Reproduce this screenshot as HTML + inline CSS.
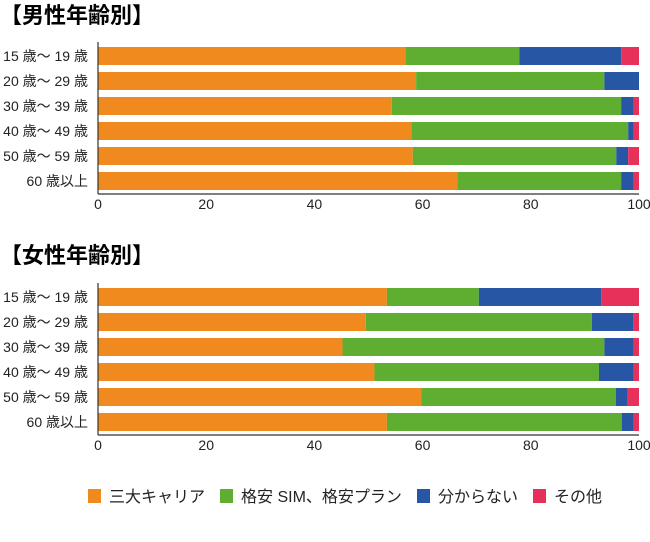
<!DOCTYPE html>
<html><head><meta charset="utf-8"><style>
body{margin:0;background:#fff;width:650px;height:537px;overflow:hidden;font-family:"Liberation Sans","Noto Sans CJK JP",sans-serif}
</style></head><body>
<svg id="svg" width="650" height="537" xmlns="http://www.w3.org/2000/svg" font-family="'Liberation Sans','Noto Sans CJK JP',sans-serif"></svg>
<script>
const categories = ["15 歳～ 19 歳","20 歳～ 29 歳","30 歳～ 39 歳","40 歳～ 49 歳","50 歳～ 59 歳","60 歳以上"];
const seriesNames = ["三大キャリア","格安 SIM、格安プラン","分からない","その他"];
const colors = ["#f08a1e","#5fae32","#2756a4","#e8315a"];
const maleCarrier = [56.8,58.8,54.3,57.9,58.2,66.4];
const maleMvno = [21.1,34.8,42.4,40.1,37.6,30.3];
const maleUnknown = [18.8,6.4,2.3,1.0,2.2,2.3];
const maleOther = [3.3,0,1.0,1.0,2.0,1.0];
const femaleCarrier = [53.4,49.5,45.2,51.1,59.8,53.4];
const femaleMvno = [17.0,41.8,48.4,41.5,35.9,43.4];
const femaleUnknown = [22.6,7.6,5.4,6.4,2.2,2.2];
const femaleOther = [7.0,1.1,1.0,1.0,2.1,1.0];
const ticks = [0,20,40,60,80,100];

const NS="http://www.w3.org/2000/svg";
const svg=document.getElementById('svg');
function mk(tag,attrs,parent){const e=document.createElementNS(NS,tag);for(const k in attrs)e.setAttribute(k,attrs[k]);(parent||svg).appendChild(e);return e;}
const x0=98,x1=639;
function xs(v){return x0+(x1-x0)*v/100;}

function chart(title,titleY,top,series,name){
  const g=mk('g',{});
  
  
  const t=mk('text',{x:0,y:titleY,'font-size':22,'font-weight':'bold',fill:'#000'},g);
  t.textContent=title;
  
  
  const step=25,bh=18;
  categories.forEach((c,i)=>{
    const y=top+i*step;
    const lb=mk('text',{x:88,y:y+bh/2+5,'font-size':14,'text-anchor':'end',fill:'#222'},g);
    lb.textContent=c;
    
    
    let acc=0;
    series.forEach((s,j)=>{
      const v=s[i];
      if(v>0){
        const r=mk('rect',{x:xs(acc),y:y,width:xs(acc+v)-xs(acc),height:bh,fill:colors[j]},g);
        
        
      }
      acc+=v;
    });
  });
  const axY=top+6*step-3;
  const la=mk('line',{x1:x0,y1:top-5,x2:x0,y2:axY,stroke:'#333','stroke-width':1.2},g);
  
  
  const ba=mk('line',{x1:x0,y1:axY,x2:x1,y2:axY,stroke:'#333','stroke-width':1.2},g);
  
  
  ticks.forEach(tv=>{
    const tl=mk('text',{x:xs(tv),y:axY+15,'font-size':14,'text-anchor':'middle',fill:'#222'},g);
    tl.textContent=tv;
    
    
  });
}
chart("【男性年齢別】",23,47,[maleCarrier,maleMvno,maleUnknown,maleOther],"male-chart");
chart("【女性年齢別】",263,288,[femaleCarrier,femaleMvno,femaleUnknown,femaleOther],"female-chart");

const legendX=[88,220,417,533];
const lg=mk('g',{});


seriesNames.forEach((n,j)=>{
  const r=mk('rect',{x:legendX[j],y:489,width:13,height:14,fill:colors[j]},lg);
  
  
  const t=mk('text',{x:legendX[j]+21,y:502,'font-size':16,fill:'#222'},lg);
  t.textContent=n;
  
  
});
</script>
</body></html>
